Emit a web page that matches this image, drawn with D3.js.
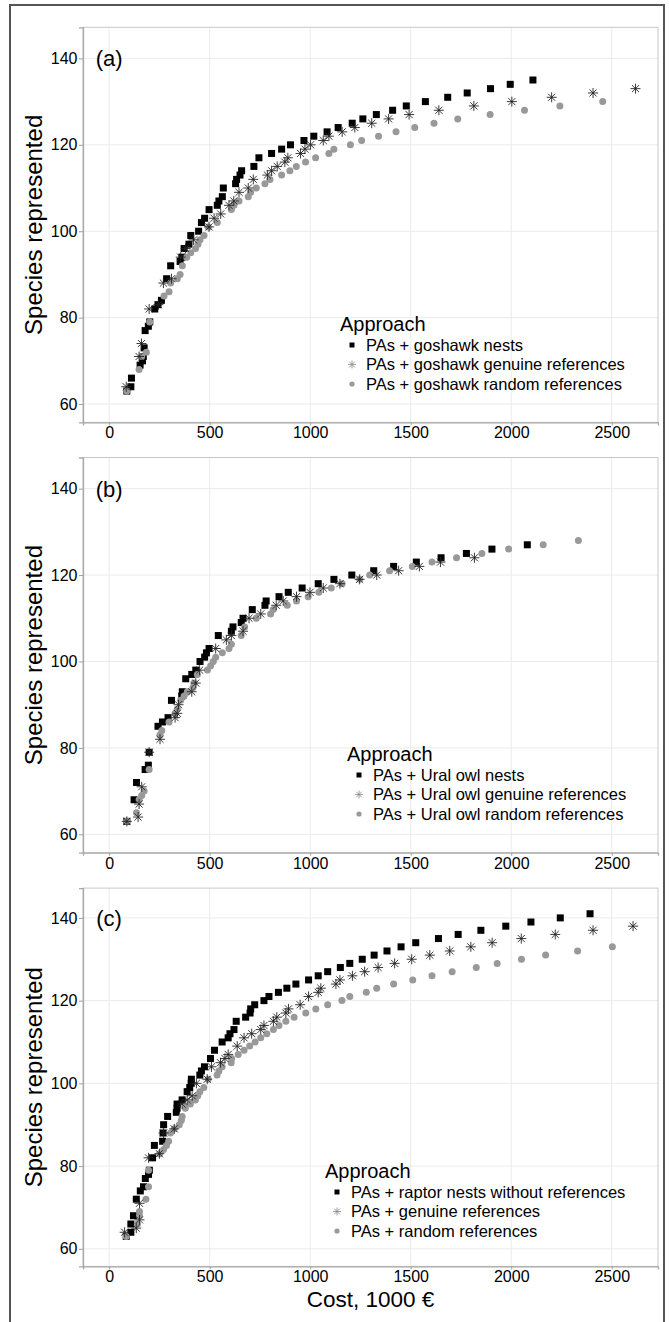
<!DOCTYPE html>
<html><head><meta charset="utf-8">
<script src="https://cdn.jsdelivr.net/npm/d3@7"></script>
<style>body{margin:0;background:#fff}svg{display:block;font-family:"Liberation Sans",Arial,sans-serif}</style>
</head><body><svg id="c" width="669" height="1322"></svg>
<script>
// ---------- DATA ----------
const xTicks = [0, 500, 1000, 1500, 2000, 2500];
const yTicks = [60, 80, 100, 120, 140];
const panelLabels = ["(a)", "(b)", "(c)"];
const legendTitle = "Approach";
const legendA = ["PAs + goshawk nests", "PAs + goshawk genuine references", "PAs + goshawk random references"];
const legendB = ["PAs + Ural owl nests", "PAs + Ural owl genuine references", "PAs + Ural owl random references"];
const legendC = ["PAs + raptor nests without references", "PAs + genuine references", "PAs + random references"];
const xTitle = "Cost, 1000 €";
const yTitle = "Species represented";

const aNests = [[88,63],[108,64],[111,66],[154,69],[166,70],[170,71],[174,73],[179,77],[195,78],[202,79],[227,82],[243,83],[260,84],[286,89],[306,92],[353,93],[362,94],[373,96],[397,97],[406,99],[445,100],[459,102],[475,103],[497,105],[538,106],[546,107],[563,108],[568,110],[629,111],[634,112],[651,113],[659,114],[720,115],[745,117],[808,118],[858,119],[902,120],[969,121],[1018,122],[1084,123],[1139,124],[1209,125],[1262,126],[1329,127],[1410,128],[1478,129],[1573,130],[1684,131],[1781,132],[1897,133],[1995,134],[2108,135]];
const aGenuine = [[85,64],[149,71],[161,74],[199,82],[245,83],[270,88],[310,89],[356,94],[380,96],[420,98],[497,101],[522,103],[555,104],[596,106],[620,107],[646,109],[692,110],[717,112],[787,113],[808,114],[836,115],[874,116],[889,117],[952,118],[974,119],[1002,120],[1065,121],[1093,122],[1159,123],[1222,124],[1306,125],[1390,126],[1492,127],[1640,128],[1814,129],[2003,130],[2201,131],[2407,132],[2618,133]];
const aRandom = [[88,63],[149,68],[162,71],[185,72],[202,79],[273,85],[298,86],[306,88],[339,89],[353,90],[364,92],[386,94],[406,95],[430,96],[442,97],[452,98],[472,99],[493,101],[538,102],[608,105],[621,106],[646,107],[692,108],[704,109],[732,110],[775,111],[800,112],[858,113],[899,114],[931,115],[977,116],[1027,117],[1093,118],[1118,119],[1200,120],[1256,121],[1340,122],[1427,123],[1520,124],[1616,125],[1734,126],[1895,127],[2066,128],[2242,129],[2455,130]];

const bNests = [[88,63],[124,68],[136,72],[179,75],[195,76],[199,79],[243,85],[265,86],[293,87],[310,91],[361,92],[364,93],[381,96],[411,97],[431,98],[452,100],[475,101],[484,102],[497,103],[543,106],[608,107],[616,108],[657,109],[666,110],[712,112],[775,113],[781,114],[845,115],[891,116],[960,117],[1040,118],[1118,119],[1207,120],[1316,121],[1415,122],[1528,123],[1651,124],[1777,125],[1904,126],[2080,127]];
const bGenuine = [[88,63],[144,64],[149,67],[162,71],[199,79],[253,82],[328,87],[339,88],[345,90],[411,93],[431,95],[450,98],[530,103],[583,105],[608,106],[666,107],[696,110],[754,111],[831,113],[866,114],[932,115],[999,116],[1065,117],[1148,118],[1246,119],[1331,120],[1440,121],[1543,122],[1648,123],[1817,124]];
const bRandom = [[88,63],[136,65],[149,68],[162,69],[174,70],[199,75],[253,83],[262,84],[298,86],[328,88],[339,89],[356,91],[373,92],[389,93],[417,94],[422,95],[439,97],[489,98],[505,99],[518,100],[530,101],[563,102],[596,103],[608,104],[657,106],[674,108],[732,110],[803,111],[816,112],[886,113],[932,114],[990,115],[1043,116],[1105,117],[1159,118],[1246,119],[1296,120],[1395,121],[1508,122],[1606,123],[1728,124],[1854,125],[1987,126],[2159,127],[2334,128]];

const cNests = [[85,63],[108,64],[108,66],[121,68],[135,72],[155,74],[171,75],[180,77],[196,78],[200,79],[216,82],[225,85],[266,86],[268,88],[271,90],[291,92],[334,93],[338,94],[338,95],[363,96],[388,98],[401,99],[408,100],[409,101],[451,102],[459,103],[474,104],[504,106],[524,108],[562,110],[592,111],[601,112],[621,113],[632,115],[679,116],[701,117],[704,118],[724,119],[770,120],[795,121],[842,122],[884,123],[929,124],[992,125],[1040,126],[1087,127],[1150,128],[1197,129],[1259,130],[1318,131],[1382,132],[1452,133],[1525,134],[1638,135],[1736,136],[1849,137],[1973,138],[2098,139],[2244,140],[2392,141]];
const cGenuine = [[77,64],[135,65],[151,67],[151,71],[196,82],[250,83],[271,88],[324,89],[363,95],[388,96],[413,97],[434,100],[488,101],[509,104],[554,105],[576,106],[592,107],[637,109],[671,111],[709,112],[754,113],[770,114],[817,115],[834,116],[879,117],[892,118],[950,119],[992,121],[1040,122],[1053,123],[1128,124],[1148,125],[1210,126],[1271,127],[1338,128],[1420,129],[1505,130],[1595,131],[1694,132],[1799,133],[1905,134],[2050,135],[2219,136],[2407,137],[2606,138]];
const cRandom = [[85,63],[141,66],[151,68],[151,69],[183,72],[196,75],[196,79],[251,83],[271,84],[285,85],[296,86],[305,88],[324,89],[349,90],[359,91],[363,92],[379,94],[404,95],[429,96],[441,97],[451,98],[471,99],[493,101],[537,102],[546,103],[562,104],[607,105],[609,106],[642,107],[671,108],[699,109],[726,110],[754,111],[784,112],[817,113],[845,114],[879,115],[920,116],[978,117],[1028,118],[1087,119],[1158,120],[1197,121],[1279,122],[1331,123],[1415,124],[1510,125],[1606,126],[1706,127],[1826,128],[1930,129],[2051,130],[2171,131],[2330,132],[2503,133]];

// ---------- LAYOUT ----------
const svg = d3.select("#c");
const L = 83, R = 658;
const xDomain = [-130, 2730], yDomain = [55.75, 147.2];
const panels = [
  {top:27.3, bottom:422.4, label:panelLabels[0], legend:legendA, series:[aNests,aGenuine,aRandom], legX:352, legY:345},
  {top:457.5, bottom:852.7, label:panelLabels[1], legend:legendB, series:[bNests,bGenuine,bRandom], legX:359, legY:775},
  {top:888.1, bottom:1266.4, label:panelLabels[2], legend:legendC, series:[cNests,cGenuine,cRandom], legX:337, legY:1192}
];

// outer frame
svg.append("rect").attr("x",10).attr("y",5).attr("width",654).attr("height",1340)
  .attr("fill","none").attr("stroke","#555").attr("stroke-width",2);

const starPath = (r) => {
  const d = r*Math.SQRT1_2;
  return `M0,${-r}L0,${r}M${-r},0L${r},0M${-d},${-d}L${d},${d}M${-d},${d}L${d},${-d}`;
};

function drawSquare(g, x, y, s){ g.append("rect").attr("x",x-s/2).attr("y",y-s/2).attr("width",s).attr("height",s).attr("fill","#000"); }
function drawStar(g, x, y, r, col, w){ g.append("path").attr("d",starPath(r)).attr("transform",`translate(${x},${y})`).attr("stroke",col).attr("stroke-width",w).attr("fill","none"); }
function drawCircle(g, x, y, r){ g.append("circle").attr("cx",x).attr("cy",y).attr("r",r).attr("fill","#999"); }

panels.forEach((p, i) => {
  const x = d3.scaleLinear().domain(xDomain).range([L, R]);
  const y = d3.scaleLinear().domain(yDomain).range([p.bottom, p.top]);
  const g = svg.append("g");
  // grid
  g.selectAll(".gx").data(xTicks).join("line").attr("x1",d=>x(d)).attr("x2",d=>x(d)).attr("y1",p.top).attr("y2",p.bottom).attr("stroke","#ebebeb").attr("stroke-width",1);
  g.selectAll(".gy").data(yTicks).join("line").attr("y1",d=>y(d)).attr("y2",d=>y(d)).attr("x1",L).attr("x2",R).attr("stroke","#ebebeb").attr("stroke-width",1);
  // border
  g.append("rect").attr("x",L).attr("y",p.top).attr("width",R-L).attr("height",p.bottom-p.top).attr("fill","none").attr("stroke","#c8c8c8").attr("stroke-width",1);
  // axes
  const fmt = d3.format("d");
  const xa = g.append("g").attr("transform",`translate(0,${p.bottom})`).call(d3.axisBottom(x).tickValues(xTicks).tickFormat(fmt).tickSize(3).tickPadding(1.5));
  const ya = g.append("g").attr("transform",`translate(${L},0)`).call(d3.axisLeft(y).tickValues(yTicks).tickFormat(fmt).tickSize(4).tickPadding(1.5));
  [xa, ya].forEach(a => {
    a.select(".domain").attr("stroke","#a8a8a8").attr("stroke-width",1.3);
    a.selectAll(".tick line").attr("stroke","#a0a0a0");
    a.selectAll(".tick text").attr("fill","#000").attr("font-size",16).attr("font-family","Liberation Sans, Arial, sans-serif");
  });
  // panel label
  g.append("text").attr("x",x(0)).attr("y",y(140)).attr("dy","0.36em").attr("text-anchor","middle").attr("font-size",22).text(p.label);
  // y title
  g.append("text").attr("transform",`translate(42,${(p.top+p.bottom)/2}) rotate(-90)`).attr("text-anchor","middle").attr("font-size",24).text(yTitle);
  // points
  p.series[0].forEach(d => drawSquare(g, x(d[0]), y(d[1]), 7));
  p.series[2].forEach(d => drawCircle(g, x(d[0]), y(d[1]), 3.5));
  p.series[1].forEach(d => drawStar(g, x(d[0]), y(d[1]), 5, "#222", 0.9));
  // legend
  const lg = g.append("g");
  lg.append("text").attr("x",p.legX-12).attr("y",p.legY-14).attr("font-size",20).text(legendTitle);
  p.legend.forEach((t, k) => {
    const yy = p.legY + k*19.5;
    if (k===0) drawSquare(lg, p.legX, yy, 5);
    if (k===1) drawStar(lg, p.legX, yy, 4, "#888", 0.8);
    if (k===2) drawCircle(lg, p.legX, yy, 2.6);
    lg.append("text").attr("x",p.legX+14).attr("y",yy).attr("dy","0.36em").attr("font-size",16.5).text(t);
  });
});
// x title
svg.append("text").attr("x",(L+R)/2).attr("y",1306.5).attr("text-anchor","middle").attr("font-size",22.5).text(xTitle);
</script></body></html>
